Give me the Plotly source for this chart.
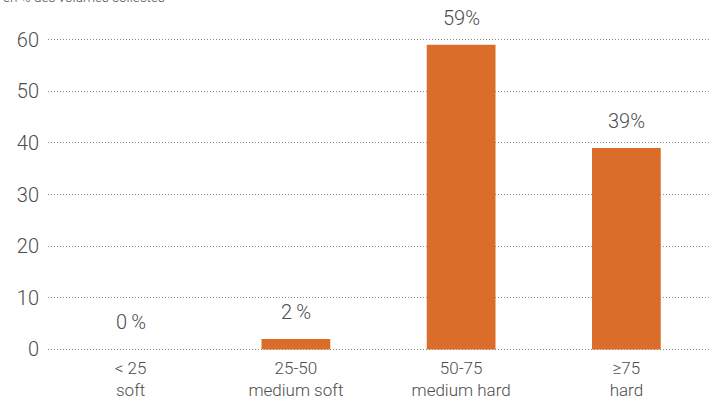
import plotly.graph_objects as go

categories = ["< 25<br>soft", "25-50<br>medium soft", "50-75<br>medium hard", "≥75<br>hard"]
values = [0, 2, 59, 39]
labels = ["0\u2009%", "2\u2009%", "59%", "39%"]
y_ticks = [0, 10, 20, 30, 40, 50, 60]
subtitle = "en % des volumes collectés"

FONT = "Roboto, sans-serif"
TXT = "#4d4d4d"

fig = go.Figure(go.Bar(
    x=categories, y=values,
    marker=dict(color="#D96D29", line=dict(width=0)),
    width=0.416,
    cliponaxis=False,
    hoverinfo="skip",
))

for c, v, t in zip(categories, values, labels):
    fig.add_annotation(x=c, y=v, text=t, showarrow=False, yanchor="bottom",
                       yshift=13, font=dict(family=FONT, size=20, color=TXT, weight=300))

fig.add_annotation(text=subtitle, xref="paper", yref="paper", x=-0.071, y=1.0,
                   yshift=40, xanchor="left", yanchor="middle", showarrow=False,
                   font=dict(family=FONT, size=13.5, color=TXT, weight=300))

fig.update_layout(
    width=715, height=401,
    margin=dict(l=48, r=6, t=37.4, b=49.4, autoexpand=False),
    paper_bgcolor="white", plot_bgcolor="white",
    showlegend=False,
    font=dict(family=FONT, color=TXT),
    xaxis=dict(showgrid=False, showline=False, zeroline=False, ticks="",
               automargin=False, ticklabelstandoff=4,
               tickfont=dict(family=FONT, size=17, color=TXT, weight=300)),
    yaxis=dict(range=[-0.5, 60.5], tickvals=y_ticks, showgrid=True,
               gridcolor="#8c8c8c", griddash="1px,2px", gridwidth=1,
               zeroline=False, showline=False, ticks="", automargin=False,
               tickfont=dict(family=FONT, size=20, color=TXT, weight=300),
               ticklabelstandoff=8),
)

fig.write_html("out.html", config={"displayModeBar": False},
               post_script="document.body.style.margin='0';")
